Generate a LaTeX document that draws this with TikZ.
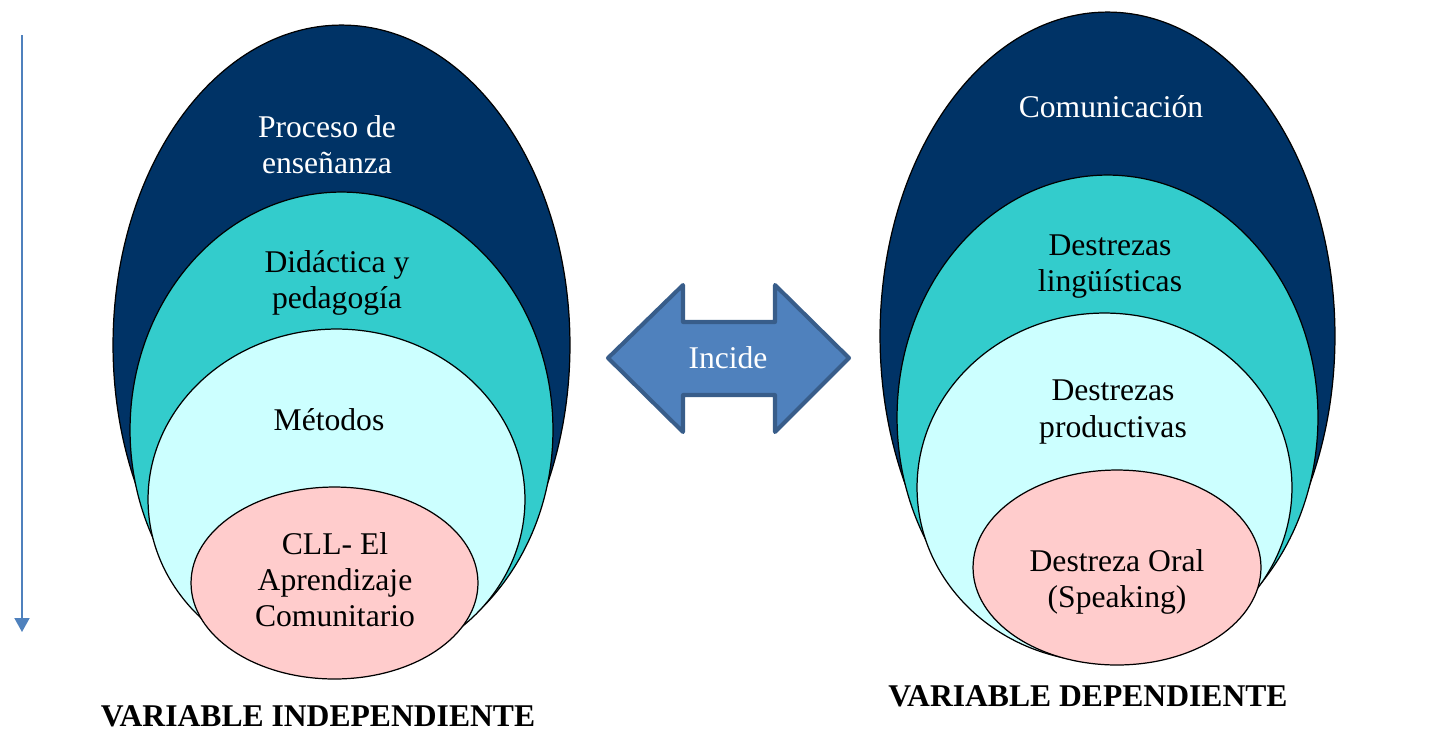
\documentclass[tikz,border=0pt]{standalone}
\usepackage{fontspec}
\setmainfont{Liberation Serif}
\usepackage{tikz}
\usetikzlibrary{positioning}
\usetikzlibrary{shapes.geometric}
\usetikzlibrary{arrows.meta}
\usepackage{xcolor}
\definecolor{navy}{RGB}{0,51,102}
\definecolor{teal}{RGB}{51,204,204}
\definecolor{paleblue}{RGB}{204,255,255}
\definecolor{pink}{RGB}{255,204,204}
\definecolor{arrowfill}{RGB}{79,129,189}
\definecolor{arrowedge}{RGB}{56,93,138}

\begin{document}
\begin{tikzpicture}[
		x=0.02cm, y=-0.02cm,
		% Style definitions
		layer/.style={ellipse, draw=black, line width=0.7pt, inner sep=0pt},
		txt/.style={font=\fontsize{18}{20.5}\selectfont, align=center},
		lighttxt/.style={txt, text=white},
		vartitle/.style={font=\fontsize{18}{20.5}\selectfont\bfseries},
		downarrow/.style={-{Triangle[length=0.28cm, width=0.3cm]}, draw=arrowfill, line width=1.1pt},
		incidebox/.style={fill=arrowfill, draw=arrowedge, line width=2.3pt, line join=round},
		]
		\useasboundingbox (0,0) rectangle (1452,731);

		% === Left edge arrow ===
		\coordinate (axtop) at (22,35);
		\coordinate (axbot) at (22,632);
		\draw[downarrow] (axtop) -- (axbot);

		% === LEFT: nested ellipses ===
		\node[layer, fill=navy, minimum width=9.14cm, minimum height=12.8cm] (proceso) at (341.5,345) {};
		\node[layer, fill=teal, minimum width=8.46cm, minimum height=9.52cm] (didactica) at (341.5,430) {};
		\node[layer, fill=paleblue, minimum width=7.54cm, minimum height=6.82cm] (metodos) at (336.5,499.5) {};
		\node[layer, fill=pink, minimum width=5.74cm, minimum height=3.84cm] (cll) at (334.5,583) {};

		\node[lighttxt] (procesotxt) at (327,145) {Proceso de\\enseñanza};
		\node[txt] (didacticatxt) at (337,283) {Didáctica y\\pedagogía};
		\node[txt] (metodostxt) at (329,420) {Métodos};
		\node[txt] (clltxt) at (335,580) {CLL- El\\Aprendizaje\\Comunitario};

		% === RIGHT: nested ellipses ===
		\node[layer, fill=navy, minimum width=9.10cm, minimum height=12.96cm] (comunic) at (1107.5,336) {};
		\node[layer, fill=teal, minimum width=8.42cm, minimum height=9.70cm] (linguist) at (1107.5,417.5) {};
		\node[layer, fill=paleblue, minimum width=7.50cm, minimum height=6.98cm] (product) at (1104.5,487.5) {};
		\node[layer, fill=pink, minimum width=5.76cm, minimum height=3.90cm] (oral) at (1117,567.5) {};

		\node[lighttxt] (comunictxt) at (1111,107) {Comunicación};
		\node[txt] (linguisttxt) at (1110,267) {Destrezas\\lingüísticas};
		\node[txt] (producttxt) at (1113,412) {Destrezas\\productivas};
		\node[txt] (oraltxt) at (1117,582) {Destreza Oral\\(Speaking)};

		% === Middle double arrow ===
		\draw[incidebox] (608,358) -- (683,285) -- (683,322) -- (775,322) -- (775,285)
			-- (849,358) -- (775,432) -- (775,395) -- (683,395) -- (683,432) -- cycle;
		\node[lighttxt] (incide) at (728,358) {Incide};

		% === Variable titles ===
		\node[vartitle] (indep) at (318,716) {VARIABLE INDEPENDIENTE};
		\node[vartitle] (dep) at (1088,696) {VARIABLE DEPENDIENTE};

	\end{tikzpicture}
\end{document}
